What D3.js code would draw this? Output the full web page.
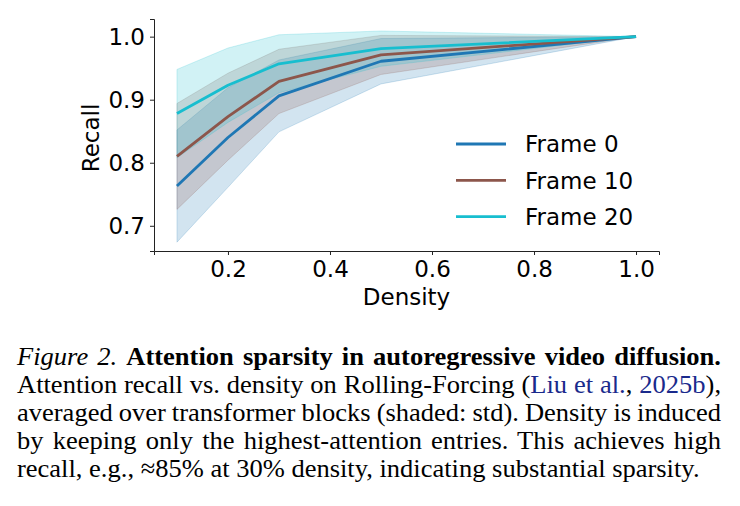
<!DOCTYPE html>
<html>
<head>
<meta charset="utf-8">
<script src="https://cdn.jsdelivr.net/npm/d3@7"></script>
<style>
  html, body { margin: 0; padding: 0; background: #fff; }
  svg { display: block; }
</style>
</head>
<body>
<svg id="chart" width="740" height="506"></svg>
<script>
// DATA
const density = [0.1, 0.2, 0.3, 0.5, 1.0];
const frames = ["Frame 0", "Frame 10", "Frame 20"];
const recallMean = [
  [0.763, 0.840, 0.906, 0.961, 1.0],
  [0.810, 0.873, 0.929, 0.971, 1.0],
  [0.878, 0.923, 0.957, 0.981, 1.0]
];
const recallStd = [
  [0.089, 0.079, 0.057, 0.036, 0.0],
  [0.084, 0.069, 0.051, 0.031, 0.0],
  [0.070, 0.059, 0.046, 0.028, 0.0]
];
const colors = ["#1f77b4", "#8c564b", "#17becf"];
const xTicks = [0.2, 0.4, 0.6, 0.8, 1.0];
const yTicks = [0.7, 0.8, 0.9, 1.0];

const svg = d3.select("#chart");
const font = "'DejaVu Sans', sans-serif";

// SCALES (matplotlib-style 5% margins)
const x = d3.scaleLinear().domain([0.055, 1.045]).range([154, 659]);
const y = d3.scaleLinear().domain([0.66, 1.028]).range([251, 19]);

// BANDS then LINES
const area = d3.area()
  .x(d => x(d.x))
  .y0(d => y(d.m - d.s))
  .y1(d => y(d.m + d.s));
const line = d3.line().x(d => x(d.x)).y(d => y(d.m));

const series = frames.map((f, i) => ({
  name: f,
  color: colors[i],
  pts: density.map((dx, j) => ({ x: dx, m: recallMean[i][j], s: recallStd[i][j] }))
}));

svg.append("g").selectAll("path")
  .data(series)
  .join("path")
    .attr("d", d => area(d.pts))
    .attr("fill", d => d.color)
    .attr("fill-opacity", 0.2)
    .attr("stroke", d => d.color)
    .attr("stroke-opacity", 0.2)
    .attr("stroke-width", 1);

svg.append("g").selectAll("path")
  .data(series)
  .join("path")
    .attr("d", d => line(d.pts))
    .attr("fill", "none")
    .attr("stroke", d => d.color)
    .attr("stroke-width", 2.8)
    .attr("stroke-linejoin", "round");

// AXES
const xAxis = svg.append("g")
  .attr("transform", `translate(0,${y.range()[0]})`)
  .call(d3.axisBottom(x).tickValues(xTicks).tickFormat(d3.format(".1f")).tickSizeOuter(0).tickSize(4).tickPadding(6));
const yAxis = svg.append("g")
  .attr("transform", `translate(${x.range()[0]},0)`)
  .call(d3.axisLeft(y).tickValues(yTicks).tickFormat(d3.format(".1f")).tickSizeOuter(0).tickSize(4).tickPadding(5));

[xAxis, yAxis].forEach(a => {
  a.selectAll("text").attr("font-family", font).attr("font-size", 23).attr("fill", "#000");
  a.selectAll("line, path").attr("stroke", "#222").attr("stroke-width", 1);
});

svg.append("text")
  .attr("x", (x.range()[0] + x.range()[1]) / 2)
  .attr("y", 305)
  .attr("text-anchor", "middle")
  .attr("font-family", font)
  .attr("font-size", 23)
  .text("Density");

svg.append("text")
  .attr("transform", `translate(99,138) rotate(-90)`)
  .attr("text-anchor", "middle")
  .attr("font-family", font)
  .attr("font-size", 23)
  .text("Recall");

// LEGEND (no frame)
const legend = svg.append("g").selectAll("g")
  .data(series)
  .join("g")
    .attr("transform", (d, i) => `translate(456,${144 + i * 36.3})`);
legend.append("line")
  .attr("x1", 0).attr("x2", 50)
  .attr("stroke", d => d.color)
  .attr("stroke-width", 2.8);
legend.append("text")
  .attr("x", 69)
  .attr("dy", "0.36em")
  .attr("font-family", font)
  .attr("font-size", 23)
  .text(d => d.name);

// CAPTION
const serif = "'Liberation Serif', 'Times New Roman', serif";
const navy = "#1a2a8c";
const capLines = [
  [{ t: "Figure 2.", s: "italic" }, { t: " " }, { t: "Attention sparsity in autoregressive video diffusion.", w: "bold" }],
  [{ t: "Attention recall vs. density on Rolling-Forcing (" }, { t: "Liu et al.", c: navy }, { t: ", " }, { t: "2025b", c: navy }, { t: ")," }],
  [{ t: "averaged over transformer blocks (shaded: std). Density is induced" }],
  [{ t: "by keeping only the highest-attention entries. This achieves high" }],
  [{ t: "recall, e.g., \u224885% at 30% density, indicating substantial sparsity." }]
];
const capLeft = 17, capRight = 721, capTop = 365, capStep = 28.1, capScale = 1.02;

capLines.forEach((segs, i) => {
  const t = svg.append("text")
    .attr("transform", `translate(${capLeft},${capTop + i * capStep}) scale(${capScale},1)`)
    .attr("font-family", serif)
    .attr("font-size", 26)
    .attr("fill", "#000");
  segs.forEach(s => {
    t.append("tspan")
      .attr("font-style", s.s || null)
      .attr("font-weight", s.w || null)
      .attr("fill", s.c || null)
      .text(s.t);
  });
  // justify all lines except the last
  if (i < capLines.length - 1) {
    const natural = t.node().getComputedTextLength();
    const spaces = segs.map(s => s.t).join("").split(" ").length - 1;
    const target = (capRight - capLeft) / capScale;
    if (spaces > 0) t.attr("word-spacing", (target - natural) / spaces);
  }
});
</script>
</body>
</html>
